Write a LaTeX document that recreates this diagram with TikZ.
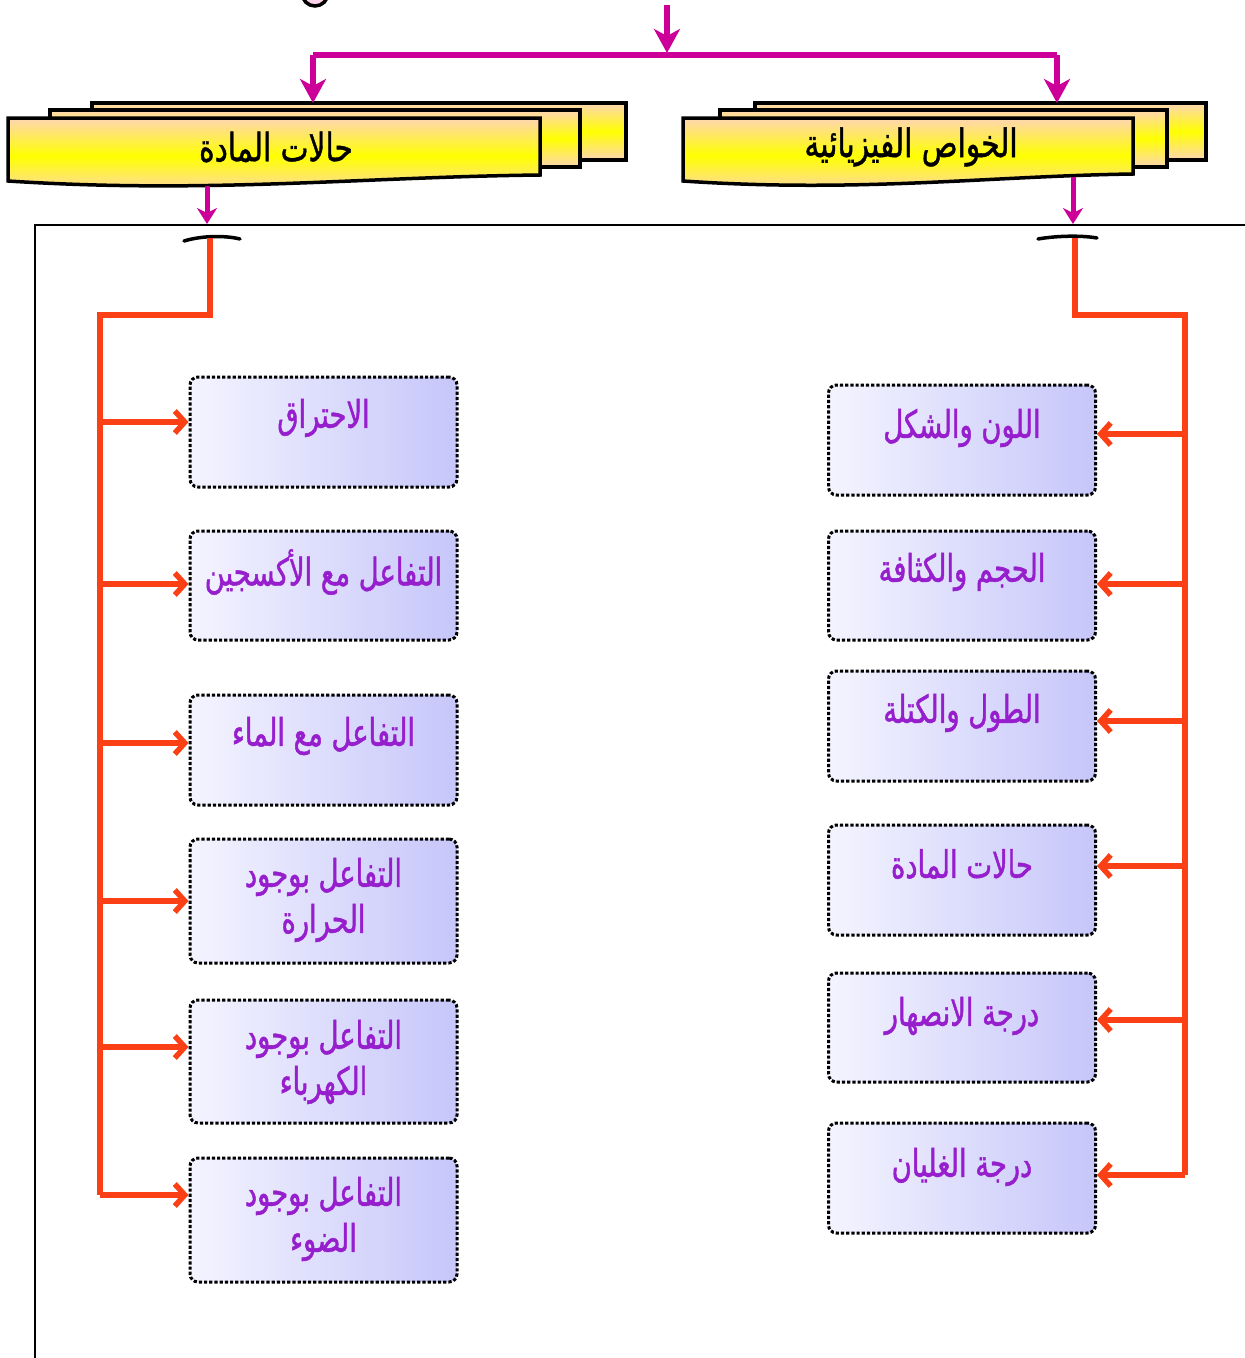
\documentclass[tikz,border=0pt]{standalone}
\usepackage{fontspec}
\usetikzlibrary{arrows.meta}
\TeXXeTstate=1
\newfontfamily\arabicfont[Script=Arabic,FakeStretch=0.72,FakeBold=1.2]{DejaVu Sans}
\newfontfamily\headfont[Script=Arabic,FakeStretch=0.76,FakeBold=1]{DejaVu Sans}
\definecolor{magentaline}{RGB}{204,0,153}
\definecolor{orangeline}{RGB}{250,64,20}
\definecolor{peach}{RGB}{255,214,178}
\definecolor{boxleft}{RGB}{244,244,255}
\definecolor{boxright}{RGB}{198,198,250}
\definecolor{purpletext}{RGB}{150,30,205}
\tikzset{
  marr/.style={draw=magentaline, line width=5.5pt, -{Stealth[length=24pt,width=26pt,inset=7pt]}},
  mline/.style={draw=magentaline, line width=5.5pt},
  oline/.style={draw=orangeline, line width=6pt, line join=miter},
  oarr/.style={draw=orangeline, line width=5.5pt, -{Straight Barb[length=10pt,width=22pt]}},
  layer/.style={draw=black, line width=3.5pt, top color=peach, bottom color=peach, middle color=yellow},
  headtext/.style={font=\headfont\fontsize{39}{44}\selectfont, text=black},
  pbox/.style={draw=black, line width=3pt, dash pattern=on 3.2pt off 2pt, rounded corners=8pt,
    left color=boxleft, right color=boxright, minimum width=267pt, inner sep=0pt},
  ptext/.style={font=\arabicfont\fontsize{38}{46}\selectfont, text=purpletext, align=center},
}
\begin{document}
\begin{tikzpicture}[x=1pt,y=-1pt]
\useasboundingbox (0,0) rectangle (1245,1358);

% small ring at the top edge
\draw[line width=3.5pt, fill={rgb,255:red,255;green,210;blue,235}] (315,-7) circle (13);

% frame lines
\draw[line width=2pt] (1245,225) -- (35,225) -- (35,1358);

% stacked document headers, left
\path[layer] (92,103) rectangle (626,160);
\path[layer] (50,110) rectangle (580,167);
\path[layer] (8,118) -- (540,118) -- (540,175) .. controls (360,177) and (210,194) .. (8,181) -- cycle;
\node[headtext] (hL) at (276,147) {\beginR حالات المادة\endR};

% stacked document headers, right
\path[layer] (755,103) rectangle (1206,160);
\path[layer] (720,110) rectangle (1167,167);
\path[layer] (683,118) -- (1133,118) -- (1133,174) .. controls (990,176) and (860,193) .. (683,181) -- cycle;
\node[headtext] (hR) at (911,147) {\beginR الخواص الفيزيائية\endR};

% magenta split at the top
\coordinate (src) at (667,5);
\coordinate (barL) at (313,55);
\coordinate (barR) at (1057,55);
\coordinate (topL) at (313,103);
\coordinate (topR) at (1057,103);
\draw[marr] (src) -- (667,53);
\draw[mline] (barL) -- (barR);
\draw[marr] (barL) -- (topL);
\draw[marr] (barR) -- (topR);

% arrows down from the headers
\coordinate (inL) at (207,224);
\coordinate (inR) at (1073,224);
\draw[magentaline, line width=5pt, -{Stealth[length=16pt,width=20pt,inset=5pt]}] (207,186) -- (inL);
\draw[magentaline, line width=5pt, -{Stealth[length=16pt,width=20pt,inset=5pt]}] (1073,177) -- (inR);

% small dark marks under the frame line
\draw[line width=3.5pt, line cap=round] (184,241) .. controls (200,236) and (224,235) .. (240,239);
\draw[line width=3.5pt, line cap=round] (1038,239) .. controls (1055,236) and (1080,235) .. (1097,238);

% left column boxes
\node[pbox, minimum height=110pt] (l1) at (323.5,432) {};
\node[ptext] at (323.5,418) {\beginR الاحتراق\endR};
\node[pbox, minimum height=109pt] (l2) at (323.5,585.5) {};
\node[ptext] at (323.5,572) {\beginR التفاعل مع الأكسجين\endR};
\node[pbox, minimum height=110pt] (l3) at (323.5,750) {};
\node[ptext] at (323.5,736) {\beginR التفاعل مع الماء\endR};
\node[pbox, minimum height=124pt] (l4) at (323.5,901) {};
\node[ptext] at (323.5,900) {\beginR التفاعل بوجود\endR\\\beginR الحرارة\endR};
\node[pbox, minimum height=123pt] (l5) at (323.5,1061.5) {};
\node[ptext] at (323.5,1062) {\beginR التفاعل بوجود\endR\\\beginR الكهرباء\endR};
\node[pbox, minimum height=124pt] (l6) at (323.5,1220) {};
\node[ptext] at (323.5,1219) {\beginR التفاعل بوجود\endR\\\beginR الضوء\endR};

% right column boxes
\node[pbox, minimum height=110pt] (r1) at (962,440) {};
\node[ptext] at (962,428) {\beginR اللون والشكل\endR};
\node[pbox, minimum height=109pt] (r2) at (962,585.5) {};
\node[ptext] at (962,572) {\beginR الحجم والكثافة\endR};
\node[pbox, minimum height=110pt] (r3) at (962,726) {};
\node[ptext] at (962,713) {\beginR الطول والكتلة\endR};
\node[pbox, minimum height=110pt] (r4) at (962,880) {};
\node[ptext] at (962,864) {\beginR حالات المادة\endR};
\node[pbox, minimum height=109pt] (r5) at (962,1027.5) {};
\node[ptext] at (962,1016) {\beginR درجة الانصهار\endR};
\node[pbox, minimum height=110pt] (r6) at (962,1178) {};
\node[ptext] at (962,1167) {\beginR درجة الغليان\endR};

% left trunk and branches
\coordinate (lt) at (100,315);
\draw[oline] (210,238) -- (210,315) -- (lt) -- (100,1195);
\foreach \y/\b in {422/l1,584/l2,743/l3,901/l4,1047/l5,1195/l6}
  \draw[oarr] (100,\y) -- (\b.west |- {(0,\y)});

% right trunk and branches
\coordinate (rt) at (1185,315);
\draw[oline] (1075,238) -- (1075,315) -- (rt) -- (1185,1175);
\foreach \y/\b in {434/r1,584/r2,721/r3,866/r4,1020/r5,1175/r6}
  \draw[oarr] (1185,\y) -- (\b.east |- {(0,\y)});
\end{tikzpicture}
\end{document}
